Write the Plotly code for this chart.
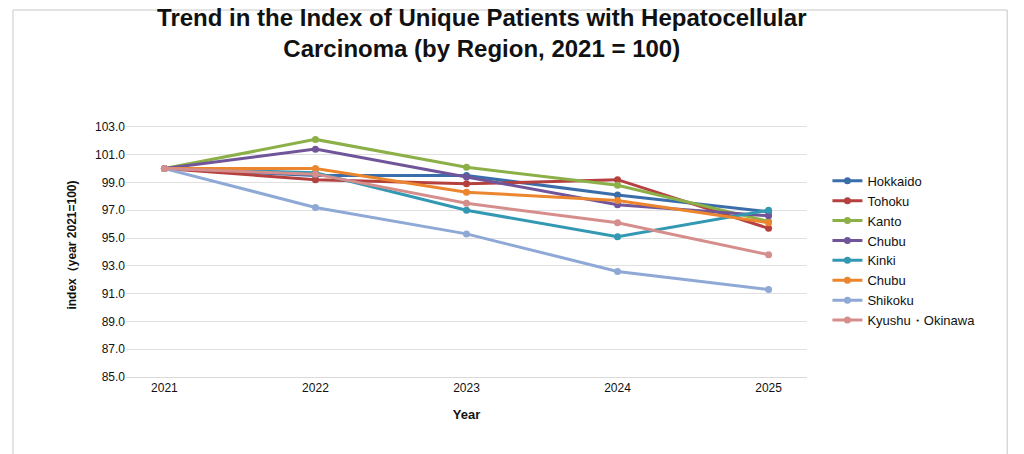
import plotly.graph_objects as go

# Index of unique patients with HCC by region (2021 = 100)
years = ["2021", "2022", "2023", "2024", "2025"]
regions = ["Hokkaido", "Tohoku", "Kanto", "Chubu", "Kinki", "Chubu", "Shikoku", "Kyushu・Okinawa"]
hokkaido = [100.0, 99.5, 99.5, 98.1, 96.9]
tohoku = [100.0, 99.2, 98.9, 99.2, 95.7]
kanto = [100.0, 102.1, 100.1, 98.8, 96.2]
chubu = [100.0, 101.4, 99.4, 97.4, 96.6]
kinki = [100.0, 99.7, 97.0, 95.1, 97.0]
chubu2 = [100.0, 100.0, 98.3, 97.7, 96.1]
shikoku = [100.0, 97.2, 95.3, 92.6, 91.3]
kyushu = [100.0, 99.6, 97.5, 96.1, 93.8]
ytick_vals = [85, 87, 89, 91, 93, 95, 97, 99, 101, 103]

series = [hokkaido, tohoku, kanto, chubu, kinki, chubu2, shikoku, kyushu]
colors = ["#3A6EAA", "#B5413E", "#8CB048", "#71559A", "#3399B2", "#EB862E", "#8EA9D5", "#D58E8C"]

fig = go.Figure()
for name, vals, c in zip(regions, series, colors):
    fig.add_trace(go.Scatter(x=years, y=vals, name=name, mode="lines+markers",
                             line=dict(color=c, width=3), marker=dict(size=7, color=c)))

fig.update_layout(
    autosize=True,
    paper_bgcolor="white", plot_bgcolor="white",
    font=dict(family="Liberation Sans, Arial", color="#222"),
    title=dict(text="<b>Trend in the Index of Unique Patients with Hepatocellular<br>Carcinoma (by Region, 2021 = 100)</b>",
               x=0.47, xanchor="center", y=0.96, yanchor="top", font=dict(size=24, color="#111")),
    margin=dict(l=118, r=209, t=105, b=85),
    legend=dict(x=1.03, y=0.8, yanchor="top", font=dict(size=13, color="#111"),
                tracegroupgap=0, itemwidth=30),
    xaxis=dict(title=dict(text="<b>Year</b>", font=dict(size=13, color="#111")),
               showline=True, linecolor="#d9d9d9", tickfont=dict(size=12, color="#111")),
    yaxis=dict(title=dict(text="<b>index（year 2021=100)</b>", font=dict(size=12, color="#111")),
               range=[85, 104], tickvals=ytick_vals, tickformat=".1f",
               gridcolor="#e0e0e0", zeroline=False, tickfont=dict(size=12, color="#111")),
    shapes=[dict(type="rect", xref="paper", yref="paper", x0=-0.166, x1=1.294, y0=-0.307, y1=1.39,
                 line=dict(color="#c8c8c8", width=1))],
)
fig.write_html("out.html", config={"responsive": True}, default_height="100vh", default_width="100%")
